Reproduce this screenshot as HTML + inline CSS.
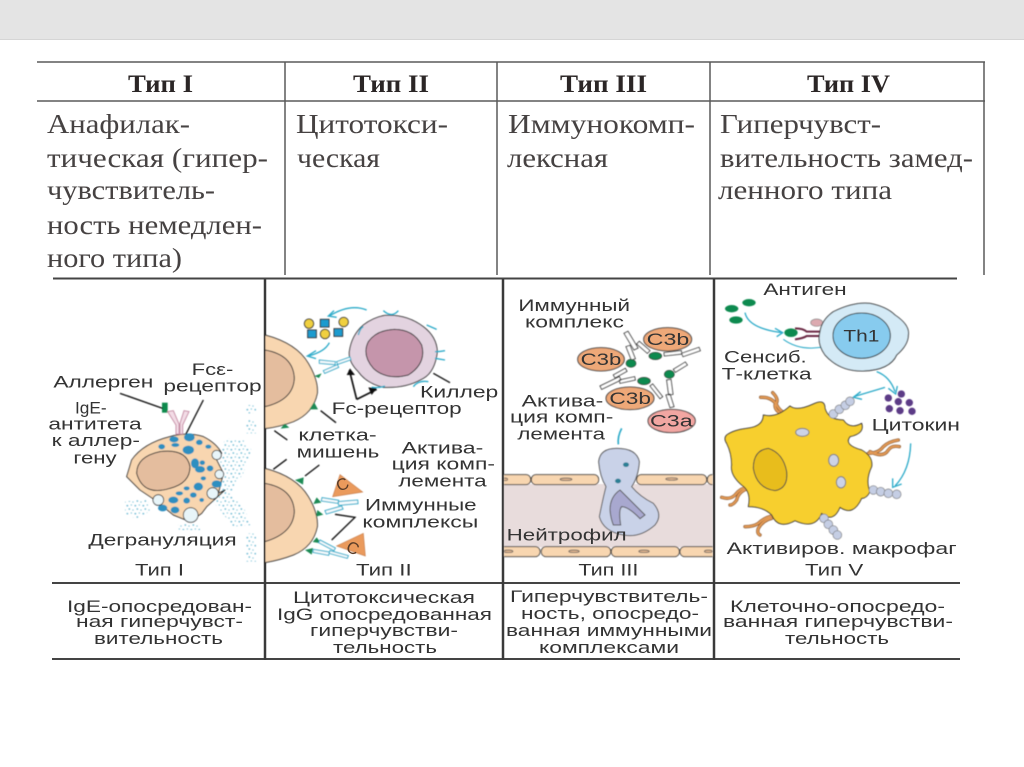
<!DOCTYPE html>
<html lang="ru"><head><meta charset="utf-8"><title>Типы гиперчувствительности</title>
<style>
html,body{margin:0;padding:0;background:#fff}
svg{display:block;filter:blur(.35px)}
.h{font:bold 25px "Liberation Serif","Noto Serif CJK SC",serif;fill:#2b2626}
.b{font:27px "Liberation Serif","Noto Serif CJK SC",serif;fill:#464242}
.s{font:17px "Liberation Sans","Noto Sans CJK SC",sans-serif;fill:#333}
.z{font:50px "Liberation Sans","Noto Sans CJK SC",sans-serif;fill:#333}
</style></head><body>
<svg xmlns="http://www.w3.org/2000/svg" width="1024" height="767" viewBox="0 0 1024 767">
<defs>
<filter id="f" x="-5%" y="-5%" width="110%" height="110%"><feGaussianBlur stdDeviation="1.4"/></filter>
<clipPath id="v"><rect x="12" y="560" width="626" height="290"/></clipPath>
<pattern id="dots" width="24" height="24" patternUnits="userSpaceOnUse"><circle cx="4" cy="5" r="2.8" fill="#7fc2d8"/><circle cx="16" cy="3" r="2.4" fill="#97cfe0"/><circle cx="10" cy="15" r="2.8" fill="#7fc2d8"/><circle cx="21" cy="18" r="2.4" fill="#97cfe0"/></pattern>
</defs>
<rect width="1024" height="767" fill="#fff"/>
<rect x="0" y="0" width="1024" height="39" fill="#e4e4e4"/>
<rect x="0" y="39" width="1024" height="1" fill="#d5d5d5"/>
<g stroke="#5a5a5a" stroke-width="1.5" fill="none">
<path d="M37 62H985M37 101H985M285 62V275M497 62V275M710 62V275M984 62V275"/>
</g>
<g stroke="#444" stroke-width="2" fill="none">
<path d="M53 278.500H957M52 583H960M52 659H960"/>
<path d="M265 279V660M503 279V660M714 279V660" stroke-width="2.500" stroke="#3a3a3a"/>
</g>
<g class="h">
<text x="128" y="92" textLength="65" lengthAdjust="spacingAndGlyphs">Тип I</text>
<text x="353" y="92" textLength="76" lengthAdjust="spacingAndGlyphs">Тип II</text>
<text x="560" y="92" textLength="87" lengthAdjust="spacingAndGlyphs">Тип III</text>
<text x="807" y="92" textLength="83" lengthAdjust="spacingAndGlyphs">Тип IV</text>
</g>
<g class="b">
<text x="47" y="133" textLength="143" lengthAdjust="spacingAndGlyphs">Анафилак-</text>
<text x="47" y="167" textLength="221" lengthAdjust="spacingAndGlyphs">тическая (гипер-</text>
<text x="47" y="199" textLength="168" lengthAdjust="spacingAndGlyphs">чувствитель-</text>
<text x="47" y="234" textLength="215" lengthAdjust="spacingAndGlyphs">ность немедлен-</text>
<text x="47" y="267" textLength="135" lengthAdjust="spacingAndGlyphs">ного типа)</text>
<text x="296" y="133" textLength="152" lengthAdjust="spacingAndGlyphs">Цитотокси-</text>
<text x="297" y="167" textLength="83" lengthAdjust="spacingAndGlyphs">ческая</text>
<text x="508" y="133" textLength="187" lengthAdjust="spacingAndGlyphs">Иммунокомп-</text>
<text x="507" y="167" textLength="101" lengthAdjust="spacingAndGlyphs">лексная</text>
<text x="720" y="133" textLength="161" lengthAdjust="spacingAndGlyphs">Гиперчувст-</text>
<text x="720" y="167" textLength="253" lengthAdjust="spacingAndGlyphs">вительность замед-</text>
<text x="718" y="199" textLength="174" lengthAdjust="spacingAndGlyphs">ленного типа</text>
</g>
<g class="s">
<text x="67" y="612" textLength="185" lengthAdjust="spacingAndGlyphs">IgE-опосредован-</text>
<text x="76" y="627" textLength="167" lengthAdjust="spacingAndGlyphs">ная гиперчувст-</text>
<text x="94" y="644" textLength="129" lengthAdjust="spacingAndGlyphs">вительность</text>
<text x="293" y="603" textLength="182" lengthAdjust="spacingAndGlyphs">Цитотоксическая</text>
<text x="277" y="620" textLength="215" lengthAdjust="spacingAndGlyphs">IgG опосредованная</text>
<text x="310" y="636" textLength="148" lengthAdjust="spacingAndGlyphs">гиперчувстви-</text>
<text x="333" y="653" textLength="104" lengthAdjust="spacingAndGlyphs">тельность</text>
<text x="510" y="602" textLength="198" lengthAdjust="spacingAndGlyphs">Гиперчувствитель-</text>
<text x="521" y="619" textLength="178" lengthAdjust="spacingAndGlyphs">ность, опосредо-</text>
<text x="506" y="636" textLength="206" lengthAdjust="spacingAndGlyphs">ванная иммунными</text>
<text x="539" y="653" textLength="140" lengthAdjust="spacingAndGlyphs">комплексами</text>
<text x="730" y="612" textLength="215" lengthAdjust="spacingAndGlyphs">Клеточно-опосредо-</text>
<text x="723" y="627" textLength="230" lengthAdjust="spacingAndGlyphs">ванная гиперчувстви-</text>
<text x="785" y="644" textLength="104" lengthAdjust="spacingAndGlyphs">тельность</text>
</g>

<!-- Panels I and II, in 3x coordinates -->
<g transform="translate(30 280) scale(.33333)">
<g filter="url(#f)">
<path d="M585 475L640 480L665 510L640 580L600 640L640 680L665 735L610 740L545 660L560 560Z" fill="url(#dots)"/>
<path d="M285 665L350 655L365 690L320 718L285 700ZM445 730h65v20h-65zM648 375h30v25h-30zM648 418h30v42h-30zM648 760h30v85h-30z" fill="url(#dots)"/>
<path d="M305 540Q340 490 420 470Q470 455 520 470Q560 490 575 520L555 530L580 580L565 640L585 630L530 680L515 700L480 725L430 705L375 660L330 630L290 590Z" fill="#f8d6b0" stroke="#333" stroke-width="3" stroke-linejoin="round"/>
<path d="M320 580Q320 530 390 515Q470 505 480 560Q480 610 420 625Q340 650 320 580Z" fill="#e4bd9e" stroke="#333" stroke-width="3"/>
<g fill="#2e8fc0">
<ellipse cx="475" cy="510" rx="17" ry="13"/><ellipse cx="478" cy="472" rx="16" ry="12"/><ellipse cx="432" cy="478" rx="14" ry="9"/><ellipse cx="395" cy="500" rx="10" ry="8"/><ellipse cx="436" cy="495" rx="12" ry="6"/><ellipse cx="508" cy="487" rx="10" ry="8"/><ellipse cx="495" cy="550" rx="12" ry="15"/><ellipse cx="517" cy="548" rx="8" ry="7"/><ellipse cx="510" cy="568" rx="15" ry="10"/><ellipse cx="540" cy="565" rx="10" ry="9"/><ellipse cx="560" cy="612" rx="15" ry="11"/><ellipse cx="505" cy="620" rx="14" ry="12"/><ellipse cx="520" cy="595" rx="8" ry="6"/><ellipse cx="470" cy="625" rx="9" ry="6"/><ellipse cx="448" cy="640" rx="11" ry="6"/><ellipse cx="430" cy="660" rx="15" ry="10"/><ellipse cx="470" cy="662" rx="10" ry="9"/><ellipse cx="490" cy="645" rx="10" ry="8"/><ellipse cx="398" cy="684" rx="14" ry="10"/><ellipse cx="435" cy="690" rx="13" ry="10"/><ellipse cx="515" cy="660" rx="7" ry="6"/><ellipse cx="535" cy="500" rx="9" ry="6"/>
</g>
<g fill="#e8f5f9" stroke="#333" stroke-width="2.500"><circle cx="385" cy="660" r="16"/><circle cx="482" cy="705" r="22"/><circle cx="560" cy="525" r="14"/><circle cx="568" cy="583" r="13"/><circle cx="548" cy="640" r="17"/></g>
<rect x="396" y="368" width="17" height="30" fill="#0e8a4d"/>
<path d="M413 395L430 392L447 432V462H438V435Z M477 395L462 392L450 430V462H458V435Z" fill="#f3dce6" stroke="#c891a8" stroke-width="3"/>
<path d="M705 165Q800 190 835 250Q865 300 862 340Q850 400 790 425Q750 440 705 446Z" fill="#f8d6b0" stroke="#333" stroke-width="3"/>
<path d="M705 210Q790 225 793 295Q790 360 705 380Z" fill="#e4bd9e" stroke="#333" stroke-width="3"/>
<path d="M705 565Q800 590 835 650Q865 700 862 740Q850 800 790 825Q750 840 705 848Z" fill="#f8d6b0" stroke="#333" stroke-width="3"/>
<path d="M705 610Q790 625 793 695Q790 760 705 785Z" fill="#e4bd9e" stroke="#333" stroke-width="3"/>
<g fill="#1f8a55"><path d="M853 288l22-8-8 14zM838 388l26 0-12-22zM752 446l26-3-14-12zM795 600l26-8-2 22zM850 672l24-4-14-16zM858 710l22-6-18-14zM848 786l26 4-14-18zM825 810l24-6-4 20z"/></g>
<path d="M1065 106Q1130 102 1180 140Q1220 170 1222 215Q1215 275 1180 295Q1130 325 1060 322Q1010 310 985 275Q955 245 958 215Q965 165 1000 135Q1030 112 1065 106Z" fill="#e3d3e0" stroke="#333" stroke-width="3"/>
<path d="M1093 148Q1150 148 1175 195Q1190 250 1135 285Q1070 302 1030 265Q995 225 1015 185Q1040 150 1093 148Z" fill="#c595ab" stroke="#333" stroke-width="3"/>
<g stroke="#2eabc9" stroke-width="4" fill="none"><path d="M1060 92Q1085 115 1105 92M1190 135L1220 148M1215 215Q1230 215 1245 212M1215 235L1245 240M1150 320Q1165 300 1195 305M1025 322Q1045 325 1065 318M985 165Q990 145 1000 140"/></g>
<g fill="#f6fbfd" stroke="#2eabc9" stroke-width="3"><path d="M868 240l48 5-1 9-47-4zM880 272l42-18 4 8-42 18zM920 245l40-14 3 8-40 14z"/><path d="M876 653l50 8-2 9-50-7zM885 692l50-14 4 9-50 15zM925 665l58-5 1 11-58 5z"/><path d="M870 780l46 24-4 8-46-24zM850 808l48 8-2 10-47-9zM900 812l55 15-3 8-55-15z"/></g>
<path d="M1010 90Q960 70 898 108" fill="none" stroke="#2eabc9" stroke-width="4"/><path d="M912 92L895 108L920 112" fill="none" stroke="#2eabc9" stroke-width="4"/>
<path d="M898 188Q885 215 835 228" fill="none" stroke="#2eabc9" stroke-width="4"/><path d="M858 212L832 228L858 236" fill="none" stroke="#2eabc9" stroke-width="4"/>
<g stroke="#333" stroke-width="3"><circle cx="837" cy="131" r="14" fill="#f0d040"/><rect x="871" y="118" width="26" height="23" fill="#1e9bcf"/><circle cx="941" cy="126" r="14" fill="#f0d040"/><rect x="833" y="150" width="26" height="23" fill="#1e9bcf"/><circle cx="885" cy="162" r="14" fill="#f0d040"/><rect x="912" y="146" width="26" height="23" fill="#1e9bcf"/></g>
<g stroke="#c97f4d" fill="#ea9a5c" stroke-width="2"><path d="M930 584L998 636L908 650Z"/><path d="M1000 760L1006 828L920 798Z"/></g>
<g stroke="#111" stroke-width="4" fill="none">
<path d="M270 340L398 385M520 360L468 462M1210 280L1260 308M872 392L918 428M733 452L772 480M770 538L730 568M868 555L825 588M915 703L975 712L905 780"/>
</g>
<path d="M980 358L958 270M980 358L1040 328" stroke="#111" stroke-width="5" fill="none"/>
<path d="M950 285L960 265L975 285ZM1015 322L1040 325L1025 345Z" fill="#111"/>
</g>
<g class="z">
<text x="70" y="322" textLength="300" lengthAdjust="spacingAndGlyphs">Аллерген</text>
<text x="485" y="285" textLength="125" lengthAdjust="spacingAndGlyphs">Fcε-</text>
<text x="400" y="335" textLength="295" lengthAdjust="spacingAndGlyphs">рецептор</text>
<text x="135" y="400" textLength="95" lengthAdjust="spacingAndGlyphs">IgE-</text>
<text x="55" y="448" textLength="280" lengthAdjust="spacingAndGlyphs">антитета</text>
<text x="65" y="498" textLength="265" lengthAdjust="spacingAndGlyphs">к аллер-</text>
<text x="130" y="550" textLength="130" lengthAdjust="spacingAndGlyphs">гену</text>
<text x="175" y="797" textLength="445" lengthAdjust="spacingAndGlyphs">Дегрануляция</text>
<text x="315" y="886" textLength="147" lengthAdjust="spacingAndGlyphs">Тип I</text>
<text x="1170" y="352" textLength="235" lengthAdjust="spacingAndGlyphs">Киллер</text>
<text x="905" y="402" textLength="390" lengthAdjust="spacingAndGlyphs">Fc-рецептор</text>
<text x="805" y="482" textLength="235" lengthAdjust="spacingAndGlyphs">клетка-</text>
<text x="800" y="532" textLength="248" lengthAdjust="spacingAndGlyphs">мишень</text>
<text x="1115" y="520" textLength="245" lengthAdjust="spacingAndGlyphs">Актива-</text>
<text x="1085" y="568" textLength="310" lengthAdjust="spacingAndGlyphs">ция комп-</text>
<text x="1105" y="620" textLength="265" lengthAdjust="spacingAndGlyphs">лемента</text>
<text x="1005" y="692" textLength="335" lengthAdjust="spacingAndGlyphs">Иммунные</text>
<text x="997" y="742" textLength="348" lengthAdjust="spacingAndGlyphs">комплексы</text>
<text x="978" y="886" textLength="167" lengthAdjust="spacingAndGlyphs">Тип II</text>
<text x="0" y="0" transform="translate(928 636) rotate(-25)" fill="#5b3d28">C</text>
<text x="0" y="0" transform="translate(945 812) rotate(25)" fill="#5b3d28">C</text>
</g>
</g>

<!-- Panels III and IV, in 3x coordinates -->
<g transform="translate(500 280) scale(.33333)">
<g filter="url(#f)">
<g clip-path="url(#v)">
<rect x="12" y="612" width="626" height="190" fill="#e8dcdc"/>
<g fill="#f8d6b0" stroke="#444" stroke-width="3">
<rect x="-6" y="584" width="98" height="30" rx="14"/><rect x="94" y="584" width="202" height="30" rx="14"/><rect x="410" y="584" width="210" height="30" rx="14"/><rect x="622" y="584" width="30" height="30" rx="14"/>
<rect x="-20" y="800" width="140" height="30" rx="14"/><rect x="124" y="800" width="208" height="30" rx="14"/><rect x="334" y="800" width="204" height="30" rx="14"/><rect x="540" y="800" width="110" height="30" rx="14"/>
</g>
<g fill="#d9b08c" stroke="#555" stroke-width="2"><ellipse cx="198" cy="598" rx="18" ry="4"/><ellipse cx="515" cy="597" rx="18" ry="4"/><ellipse cx="222" cy="814" rx="16" ry="4"/><ellipse cx="432" cy="814" rx="16" ry="4"/><ellipse cx="25" cy="814" rx="14" ry="4"/><ellipse cx="625" cy="814" rx="12" ry="4"/><ellipse cx="15" cy="598" rx="8" ry="4"/></g>
</g>
<path d="M296 545Q300 505 350 505Q410 505 418 545Q415 590 395 620Q420 650 460 670Q490 705 465 735Q420 775 370 765Q310 755 298 710Q310 650 318 620Q300 590 296 545Z" fill="#c9d2e8" stroke="#555" stroke-width="3"/>
<path d="M330 690Q330 650 360 630Q380 650 435 705L420 716Q385 680 365 680Q355 690 362 735L340 735Q332 715 330 690Z" fill="#a8a8cf" stroke="#555" stroke-width="3"/>
<ellipse cx="378" cy="554" rx="9" ry="7" fill="#2b7f95"/><ellipse cx="354" cy="603" rx="9" ry="7" fill="#2b7f95"/>
<path d="M365 445Q352 470 355 493" fill="none" stroke="#2eabc9" stroke-width="5"/>
<g fill="#fff" stroke="#444" stroke-width="3">
<path d="M372 160l12-6 30 50-12 6z M378 200l12-4 16 40-12 4z M410 192l8-8 32 28-8 8z M492 218l52-6 1 10-52 6z M545 220l52-18 4 10-52 18z M520 268l36-22 6 9-36 22z M300 318l58-28 5 10-58 28z M340 285l36-20 5 9-36 20z M358 300l46-10 2 10-46 10z M450 318l8-6 30 38-8 6z M500 300l13-2 6 45-13 2z M498 345l12-3 12 38-12 3z"/>
</g>
<g fill="#108a50" stroke="#333" stroke-width="2"><ellipse cx="393" cy="250" rx="15" ry="12"/><ellipse cx="466" cy="228" rx="19" ry="11"/><ellipse cx="508" cy="283" rx="15" ry="12"/><ellipse cx="432" cy="303" rx="19" ry="11"/></g>
<g stroke="#444" stroke-width="3" fill="#eea878"><ellipse cx="503" cy="178" rx="72" ry="35"/><ellipse cx="303" cy="238" rx="70" ry="35"/><ellipse cx="390" cy="355" rx="72" ry="34"/></g>
<ellipse cx="515" cy="423" rx="71" ry="35" fill="#f2a6a2" stroke="#444" stroke-width="3"/>

<g fill="#108a50"><ellipse cx="695" cy="86" rx="20" ry="11"/><ellipse cx="747" cy="68" rx="20" ry="11"/><ellipse cx="708" cy="120" rx="20" ry="11"/><ellipse cx="873" cy="158" rx="20" ry="13"/></g>
<path d="M735 98Q745 145 845 158" fill="none" stroke="#2eabc9" stroke-width="4"/><path d="M825 145L848 158L830 170" fill="none" stroke="#2eabc9" stroke-width="4"/>
<path d="M975 200Q900 215 850 178" fill="none" stroke="#2eabc9" stroke-width="3"/>
<ellipse cx="950" cy="128" rx="18" ry="11" fill="#dcaab0" stroke="#888" stroke-width="2"/>
<path d="M885 145Q910 145 920 155H960M885 178Q910 175 920 168H960" fill="none" stroke="#6c2a44" stroke-width="6"/>
<path d="M1000 95Q1060 65 1110 70Q1160 80 1185 105Q1230 135 1225 165Q1225 195 1190 225Q1170 270 1090 273Q1020 275 975 225Q950 190 960 155Q965 120 1000 95Z" fill="#d4eaf6" stroke="#333" stroke-width="3"/>
<ellipse cx="1085" cy="167" rx="86" ry="68" fill="#87cbee" stroke="#333" stroke-width="3"/>
<path d="M1130 275Q1170 290 1185 335" fill="none" stroke="#2eabc9" stroke-width="4"/><path d="M1165 325L1187 342L1192 318" fill="none" stroke="#2eabc9" stroke-width="4"/>
<path d="M1155 322L1062 350" fill="none" stroke="#2eabc9" stroke-width="4"/><path d="M1082 335L1060 352L1086 358" fill="none" stroke="#2eabc9" stroke-width="4"/>
<path d="M1232 490Q1230 570 1185 618" fill="none" stroke="#2eabc9" stroke-width="4"/><path d="M1178 595L1178 622L1205 612" fill="none" stroke="#2eabc9" stroke-width="4"/>
<g fill="#5b3a86"><circle cx="1165" cy="354" r="11"/><circle cx="1204" cy="342" r="11"/><circle cx="1195" cy="365" r="11"/><circle cx="1228" cy="368" r="11"/><circle cx="1168" cy="386" r="11"/><circle cx="1200" cy="392" r="11"/><circle cx="1236" cy="394" r="11"/></g>
<g fill="none" stroke="#8a5a35" stroke-width="10" stroke-linecap="round"><path d="M782 352Q815 350 830 375Q840 395 858 400M818 338Q840 360 825 375Q825 395 850 402"/><path d="M1105 520Q1135 520 1150 500Q1165 485 1195 480M1110 515Q1150 535 1165 510Q1175 495 1198 500"/><path d="M745 620Q720 625 705 645Q690 660 665 652M745 625Q715 635 710 660Q700 675 690 675"/><path d="M815 708Q790 715 775 730Q760 740 735 740M815 715Q790 720 775 745Q770 760 780 765"/></g>
<g fill="none" stroke="#e39a55" stroke-width="6" stroke-linecap="round"><path d="M782 352Q815 350 830 375Q840 395 858 400M818 338Q840 360 825 375Q825 395 850 402"/><path d="M1105 520Q1135 520 1150 500Q1165 485 1195 480M1110 515Q1150 535 1165 510Q1175 495 1198 500"/><path d="M745 620Q720 625 705 645Q690 660 665 652M745 625Q715 635 710 660Q700 675 690 675"/><path d="M815 708Q790 715 775 730Q760 740 735 740M815 715Q790 720 775 745Q770 760 780 765"/></g>
<path d="M680 465Q700 450 740 445Q790 440 790 405Q830 415 870 378Q890 395 940 372Q975 355 975 385Q985 420 1030 420Q1050 450 1085 430Q1095 460 1050 470Q1030 495 1085 510Q1120 530 1115 560Q1095 600 1110 635Q1100 655 1085 655Q1060 710 1020 682Q1000 730 965 700Q945 750 885 722Q835 750 815 705Q790 680 745 680Q755 635 725 615Q690 585 695 555Q695 520 680 490Q670 475 680 465Z" fill="#f7cf2d" stroke="#333" stroke-width="3" stroke-linejoin="round"/>
<path d="M760 565Q760 510 805 505Q850 520 860 575Q865 625 825 632Q770 625 760 565Z" fill="#e8bd1e" stroke="#444" stroke-width="3"/>
<g fill="#cdd3e6" stroke="#777" stroke-width="3"><ellipse cx="907" cy="457" rx="20" ry="12"/><ellipse cx="1001" cy="541" rx="15" ry="18"/><ellipse cx="1023" cy="607" rx="14" ry="17"/></g>
<g fill="#c5cee4" stroke="#777" stroke-width="2"><circle cx="1000" cy="402" r="13"/><circle cx="1018" cy="388" r="13"/><circle cx="1036" cy="376" r="13"/><circle cx="1050" cy="364" r="13"/>
<circle cx="1120" cy="630" r="13"/><circle cx="1142" cy="635" r="13"/><circle cx="1165" cy="640" r="13"/><circle cx="1190" cy="643" r="13"/>
<circle cx="972" cy="715" r="13"/><circle cx="985" cy="733" r="13"/><circle cx="1000" cy="750" r="13"/><circle cx="1012" cy="765" r="13"/></g>
</g>
<g class="z">
<text x="55" y="93" textLength="335" lengthAdjust="spacingAndGlyphs">Иммунный</text>
<text x="75" y="142" textLength="297" lengthAdjust="spacingAndGlyphs">комплекс</text>
<text x="65" y="380" textLength="245" lengthAdjust="spacingAndGlyphs">Актива-</text>
<text x="30" y="428" textLength="310" lengthAdjust="spacingAndGlyphs">ция комп-</text>
<text x="52" y="478" textLength="263" lengthAdjust="spacingAndGlyphs">лемента</text>
<text x="20" y="782" textLength="360" lengthAdjust="spacingAndGlyphs">Нейтрофил</text>
<text x="235" y="886" textLength="180" lengthAdjust="spacingAndGlyphs">Тип III</text>
<text x="440" y="195" textLength="128" lengthAdjust="spacingAndGlyphs">C3b</text>
<text x="242" y="255" textLength="122" lengthAdjust="spacingAndGlyphs">C3b</text>
<text x="328" y="372" textLength="125" lengthAdjust="spacingAndGlyphs">C3b</text>
<text x="450" y="440" textLength="128" lengthAdjust="spacingAndGlyphs">C3a</text>
<text x="790" y="45" textLength="250" lengthAdjust="spacingAndGlyphs">Антиген</text>
<text x="1030" y="185" textLength="108" lengthAdjust="spacingAndGlyphs">Th1</text>
<text x="672" y="248" textLength="248" lengthAdjust="spacingAndGlyphs">Сенсиб.</text>
<text x="665" y="298" textLength="270" lengthAdjust="spacingAndGlyphs">Т-клетка</text>
<text x="1115" y="452" textLength="265" lengthAdjust="spacingAndGlyphs">Цитокин</text>
<text x="680" y="822" textLength="690" lengthAdjust="spacingAndGlyphs">Активиров. макрофаг</text>
<text x="915" y="886" textLength="175" lengthAdjust="spacingAndGlyphs">Тип V</text>
</g>
</g>
</svg>
</body></html>
